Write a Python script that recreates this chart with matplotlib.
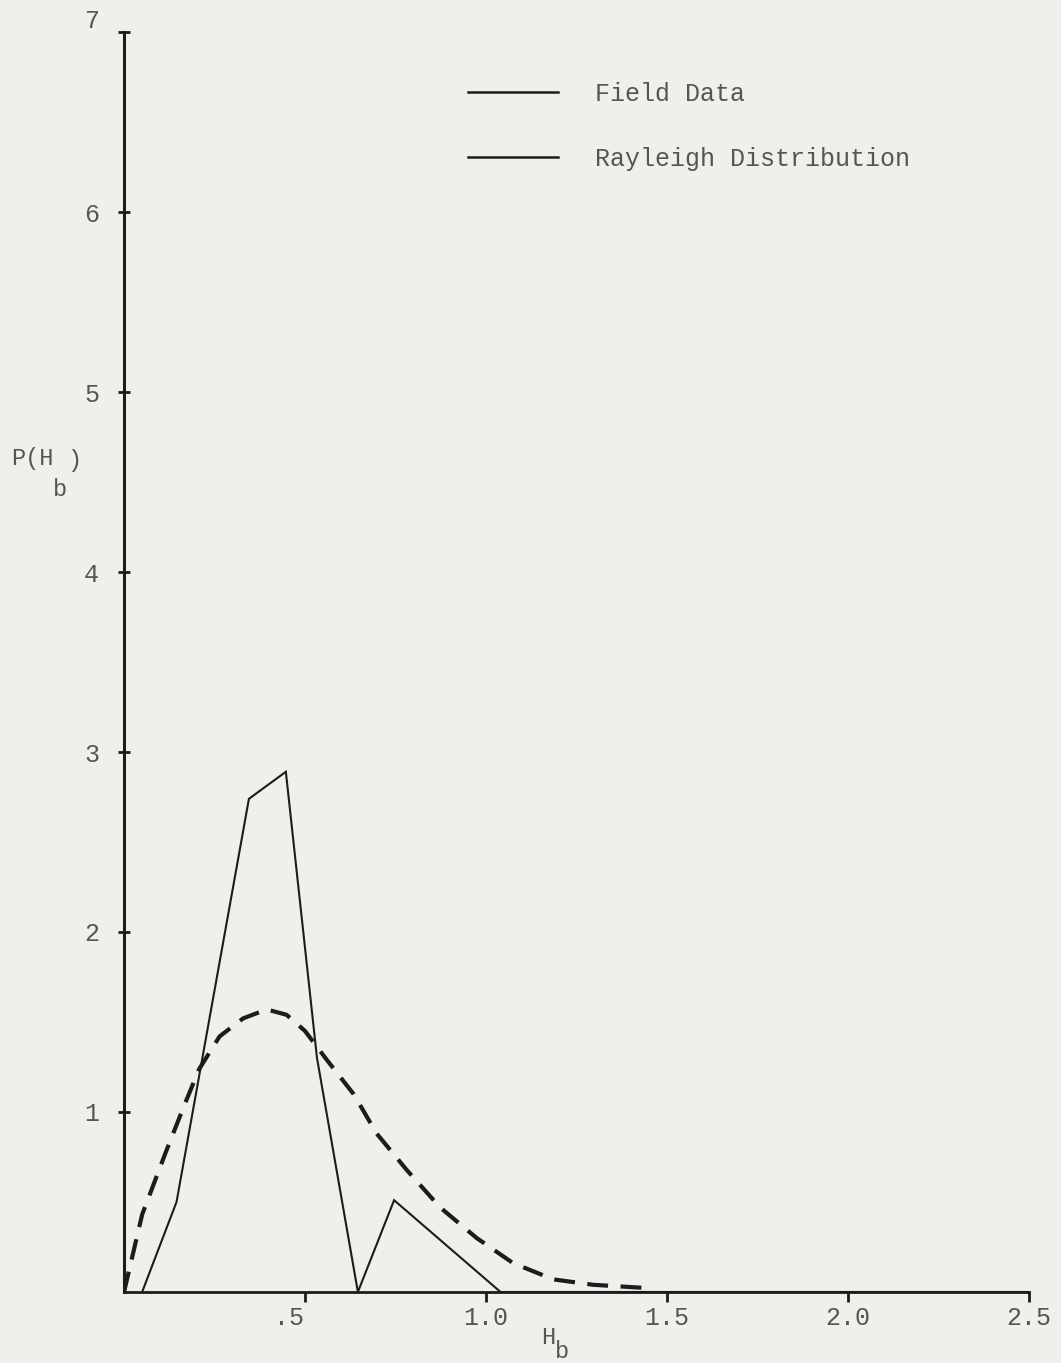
"""
Field data vs. Rayleigh distribution of breaker heights
"""

import matplotlib
matplotlib.use("Agg")
import matplotlib.pyplot as plt
from matplotlib.lines import Line2D
from matplotlib.transforms import ScaledTranslation

# field data
field_h = [0.05, 0.145, 0.345, 0.447, 0.533, 0.646, 0.746, 1.04, 2.5]
field_p = [0.0, 0.50, 2.74, 2.89, 1.30, 0.0, 0.51, 0.0, 0.0]

# Rayleigh curve, points
rayl_h = [0.0, 0.05, 0.116, 0.167, 0.208, 0.264, 0.329, 0.394, 0.449, 0.50,
          0.56, 0.634, 0.698, 0.78, 0.873, 0.974, 1.075, 1.186, 1.296, 1.46]
rayl_p = [0.0, 0.43, 0.78, 1.04, 1.24, 1.42, 1.52, 1.57, 1.54, 1.45,
          1.29, 1.10, 0.88, 0.68, 0.47, 0.30, 0.16, 0.07, 0.04, 0.02]

x_ticks = [0.5, 1.0, 1.5, 2.0, 2.5]
x_labels = ['.5', '1.0', '1.5', '2.0', '2.5']
y_ticks = [1, 2, 3, 4, 5, 6, 7]
y_labels = ['1', '2', '3', '4', '5', '6', '7']

paper = '#efefec'
ink = '#1c1c1c'
type_ink = '#555555'
mono = ['Liberation Mono', 'DejaVu Sans Mono']

plt.rcParams['font.family'] = mono

fig = plt.figure(figsize=(10.61, 13.63), dpi=100, facecolor=paper)
ax = fig.add_axes([0.1169, 0.0521, 0.8530, 0.9244], facecolor=paper)

ax.plot(field_h, field_p, color=ink, lw=1.5, solid_joinstyle='miter')
ax.plot(rayl_h, rayl_p, color=ink, lw=3.0, linestyle=(0, (5, 3)))

ax.set_xlim(0, 2.5)
ax.set_ylim(0, 7)

for s in ['top', 'right']:
    ax.spines[s].set_visible(False)
ax.spines['left'].set_linewidth(2.2)
ax.spines['bottom'].set_linewidth(2.0)
ax.spines['left'].set_color(ink)
ax.spines['bottom'].set_color(ink)

ax.set_xticks(x_ticks, x_labels)
ax.set_yticks(y_ticks, y_labels)
ax.tick_params(axis='x', direction='out', length=7, width=2, color=ink,
               labelsize=18, labelcolor=type_ink, pad=3)
ax.tick_params(axis='y', direction='inout', length=8, width=2, color=ink,
               labelsize=18, labelcolor=type_ink, pad=14)

# the typist put ".5" a bit left of its tick and "7" above the axis end
for lab in ax.get_xticklabels():
    if lab.get_text() == '.5':
        lab.set_transform(lab.get_transform() +
                          ScaledTranslation(-16 / 100, 0, fig.dpi_scale_trans))
for lab in ax.get_yticklabels():
    if lab.get_text() == '7':
        lab.set_transform(lab.get_transform() +
                          ScaledTranslation(0, 14 / 100, fig.dpi_scale_trans))

# legend: both entries drawn as solid lines in the original
handles = [Line2D([], [], color=ink, lw=1.8), Line2D([], [], color=ink, lw=1.8)]
ax.legend(handles, ['Field Data', 'Rayleigh Distribution'],
          loc='upper left', bbox_to_anchor=(0.355, 0.978),
          frameon=False, fontsize=18, handlelength=3.6, handletextpad=1.5,
          labelspacing=1.62, labelcolor=type_ink)

# axis titles, subscripts typed half a line down
W, H = 1061, 1363
lbl = dict(fontsize=17, color=type_ink, va='center', ha='left')
fig.text(11 / W, 1 - 458 / H, 'P(H', **lbl)
fig.text(53 / W, 1 - 489 / H, 'b', **lbl)
fig.text(67 / W, 1 - 460 / H, ')', **lbl)
fig.text(541 / W, 1 - 1338 / H, 'H', **lbl)
fig.text(555 / W, 1 - 1352 / H, 'b', **lbl)

fig.savefig('out.png', dpi=100, facecolor=paper)
